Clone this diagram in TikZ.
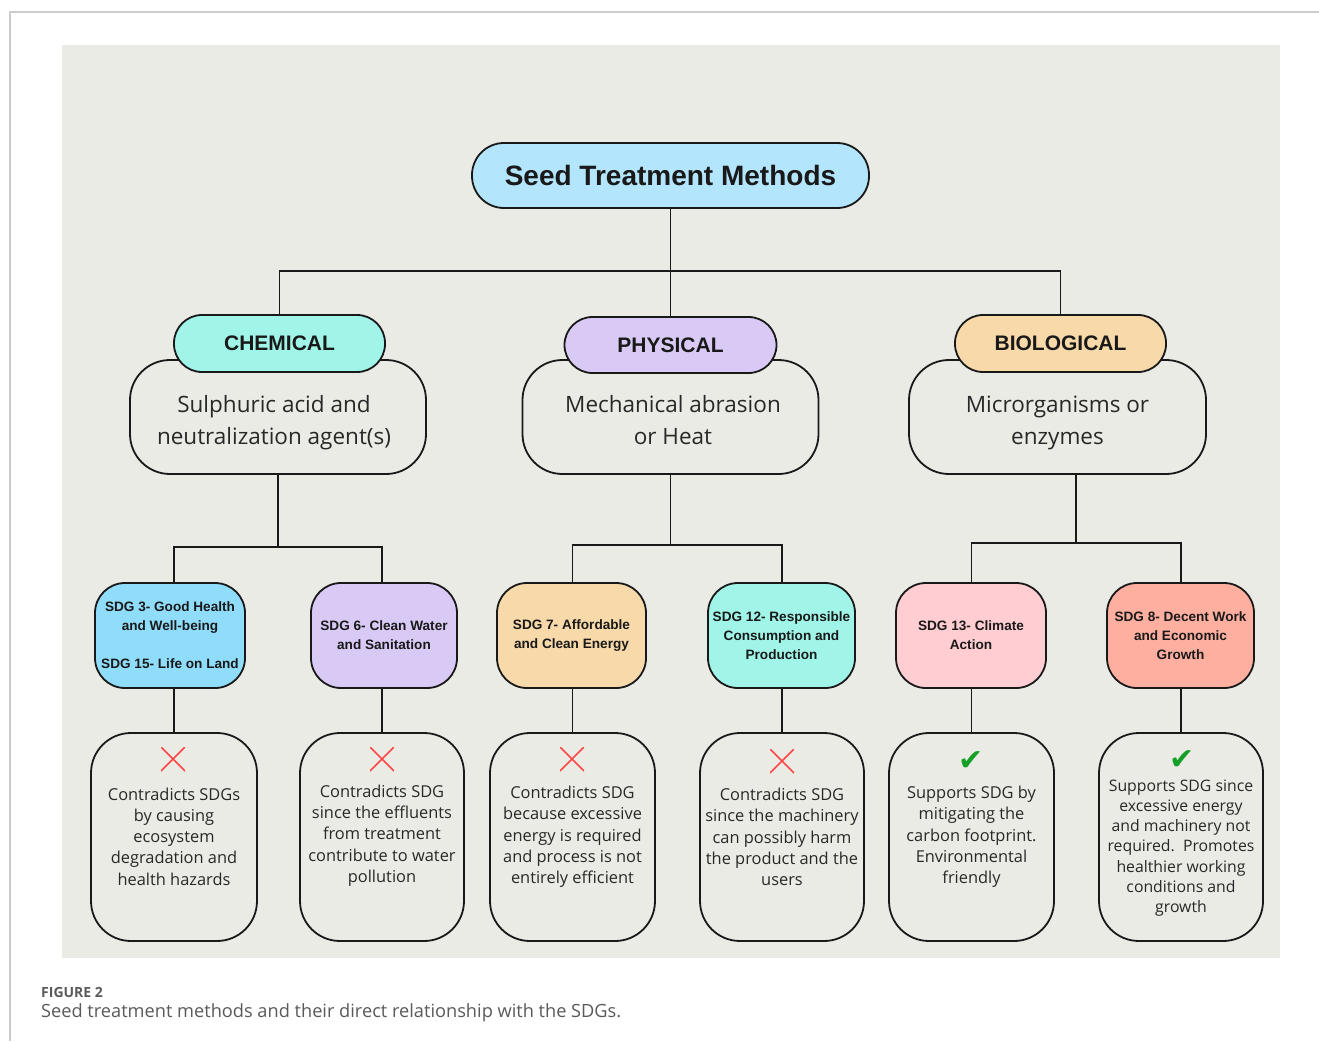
\documentclass[tikz,border=0pt]{standalone}
\usepackage{fontspec}
\setmainfont{Open Sans}
\newfontfamily\headfont{Liberation Sans}
\newfontfamily\symfont{DejaVu Sans}
\definecolor{panel}{RGB}{235,235,229}
\definecolor{framegray}{RGB}{204,204,204}
\definecolor{titleblue}{RGB}{179,229,252}
\definecolor{aqua}{RGB}{160,245,232}
\definecolor{lav}{RGB}{216,202,245}
\definecolor{peach}{RGB}{248,217,170}
\definecolor{sky}{RGB}{144,221,251}
\definecolor{pink}{RGB}{255,205,210}
\definecolor{salmon}{RGB}{255,175,160}
\definecolor{ink}{RGB}{25,25,25}
\definecolor{txt}{RGB}{40,40,40}
\definecolor{xred}{RGB}{255,70,70}
\definecolor{okgreen}{RGB}{22,160,40}
\definecolor{capgray}{RGB}{90,90,90}
\begin{document}
\begin{tikzpicture}[x=1pt,y=-1pt,
  box/.style={draw=ink, line width=1.8pt},
  conn/.style={draw=ink, line width=1.8pt},
  catbox/.style={box, rounded corners=28pt, minimum width=211pt, minimum height=57pt, inner sep=0pt,
    font=\headfont\bfseries\fontsize{21}{24}\selectfont, text=ink},
  descbox/.style={box, fill=panel, rounded corners=40pt, minimum width=296pt, minimum height=114pt, inner sep=0pt},
  desctext/.style={align=center, text=txt, inner sep=0pt, font=\fontsize{22.5}{32}\selectfont},
  sdgbox/.style={box, rounded corners=30pt, minimum height=105pt, inner sep=1pt, align=center,
    text=ink, font=\headfont\bfseries\fontsize{13.6}{19}\selectfont},
  resbox/.style={box, fill=panel, rounded corners=40pt, minimum width=164pt, minimum height=208pt},
  restext/.style={align=center, text=txt, inner sep=0pt, font=\fontsize{16.4}{21.3}\selectfont},
  xmark/.style={minimum size=24pt, inner sep=0pt, path picture={
    \draw[xred, line width=1.6pt] (path picture bounding box.north west) -- (path picture bounding box.south east)
      (path picture bounding box.north east) -- (path picture bounding box.south west);}},
  vmark/.style={inner sep=0pt, text=okgreen, font=\symfont\fontsize{30}{30}\selectfont}
]
\useasboundingbox (0,0) rectangle (1319,1041);
\fill[white] (0,0) rectangle (1319,1041);
\draw[framegray, line width=1.5pt] (10,1041) -- (10,12) -- (1319,12);
\fill[panel] (62,45) rectangle (1280,958);

% title
\node[box, fill=titleblue, rounded corners=32pt, minimum width=397pt, minimum height=65pt, inner sep=0pt,
  font=\headfont\bfseries\fontsize{28}{32}\selectfont, text=ink] (title) at (670.5,175.5) {Seed Treatment Methods};

% description boxes
\node[descbox] (chemdesc) at (278,417) {};
\node[descbox] (physdesc) at (670.5,417) {};
\node[descbox, minimum width=297pt] (biodesc) at (1057.5,417) {};
\node[desctext] (chemtxt) at (274,423) {Sulphuric acid and\\neutralization agent(s)};
\node[desctext] (phystxt) at (673,420) {Mechanical abrasion\\or Heat};
\node[desctext] (biotxt) at (1057.5,423) {Microrganisms or\\enzymes};

% category labels
\node[catbox, fill=aqua] (chemlab) at (279.5,343.5) {CHEMICAL};
\node[catbox, fill=lav, minimum width=212pt, minimum height=56pt] (physlab) at (670.5,345) {PHYSICAL};
\node[catbox, fill=peach] (biolab) at (1060.5,343.5) {BIOLOGICAL};

% top connectors
\coordinate (hub) at (670.5,271);
\draw[conn] (title.south) -- (hub);
\draw[conn] (chemlab.north) |- (hub) -| (biolab.north);
\draw[conn] (hub) -- (physlab.north);

% SDG boxes
\node[sdgbox, fill=sky, minimum width=150pt] (sdg3) at (170,635.5) {SDG 3- Good Health\\and Well-being\\[19pt]SDG 15- Life on Land};
\node[sdgbox, fill=lav, minimum width=146pt] (sdg6) at (384,635.5) {SDG 6- Clean Water\\and Sanitation};
\node[sdgbox, fill=peach, minimum width=149pt] (sdg7) at (571.5,635.5) {SDG 7- Affordable\\and Clean Energy};
\node[sdgbox, fill=aqua, minimum width=147pt] (sdg12) at (781.5,635.5) {SDG 12- Responsible\\Consumption and\\Production};
\node[sdgbox, fill=pink, minimum width=150pt] (sdg13) at (971,635.5) {SDG 13- Climate\\Action};
\node[sdgbox, fill=salmon, minimum width=147pt] (sdg8) at (1180.5,635.5) {SDG 8- Decent Work\\and Economic\\Growth};

% result boxes
\node[resbox, minimum width=166pt] (res1) at (174,837) {};
\node[resbox] (res2) at (382,837) {};
\node[resbox, minimum width=165pt] (res3) at (572.5,837) {};
\node[resbox] (res4) at (782,837) {};
\node[resbox, minimum width=165pt] (res5) at (971.5,837) {};
\node[resbox] (res6) at (1181,837) {};

% middle connectors
\coordinate (cj) at (278,547);
\coordinate (pj) at (670.5,545);
\coordinate (bj) at (1076,543);
\draw[conn] (chemdesc.south) -- (cj);
\draw[conn] (physdesc.south) -- (pj);
\draw[conn] (bj |- biodesc.south) -- (bj);
\draw[conn] (res1.north |- sdg3.north) |- (cj) -| (res2.north |- sdg6.north);
\draw[conn] (res3.north |- sdg7.north) |- (pj) -| (res4.north |- sdg12.north);
\draw[conn] (res5.north |- sdg13.north) |- (bj) -| (res6.north |- sdg8.north);

% lower connectors
\draw[conn] (res1.north) -- (res1.north |- sdg3.south);
\draw[conn] (res2.north) -- (res2.north |- sdg6.south);
\draw[conn] (res3.north) -- (res3.north |- sdg7.south);
\draw[conn] (res4.north) -- (res4.north |- sdg12.south);
\draw[conn] (res5.north) -- (res5.north |- sdg13.south);
\draw[conn] (res6.north) -- (res6.north |- sdg8.south);

% marks
\node[xmark] (m1) at (173,759) {};
\node[xmark] (m2) at (382,759) {};
\node[xmark] (m3) at (572,759) {};
\node[xmark] (m4) at (782,761) {};
\node[vmark] (m5) at (971,761) {✔};
\node[vmark] (m6) at (1182,760) {✔};

% result texts
\node[restext] (t1) at (174,836.5) {Contradicts SDGs\\by causing\\ecosystem\\degradation and\\health hazards};
\node[restext] (t2) at (382,835.5) {Contradicts SDG\\since the effluents\\from treatment\\contribute to water\\pollution};
\node[restext] (t3) at (572.5,837) {Contradicts SDG\\because excessive\\energy is required\\and process is not\\entirely efficient};
\node[restext] (t4) at (782,837) {Contradicts SDG\\since the machinery\\can possibly harm\\the product and the\\users};
\node[restext] (t5) at (971.5,837) {Supports SDG by\\mitigating the\\carbon footprint.\\Environmental\\friendly};
\node[restext, font=\fontsize{15.8}{20.3}\selectfont] (t6) at (1181,848) {Supports SDG since\\excessive energy\\and machinery not\\required.\ \ Promotes\\healthier working\\conditions and\\growth};

% caption
\node[anchor=west, inner sep=0pt, text=capgray, font=\bfseries\fontsize{14}{16}\selectfont] (fig) at (41,992) {FIGURE 2};
\node[anchor=west, inner sep=0pt, text=capgray, font=\fontsize{18.2}{21}\selectfont] (cap) at (41,1012.5) {Seed treatment methods and their direct relationship with the SDGs.};
\end{tikzpicture}
\end{document}
